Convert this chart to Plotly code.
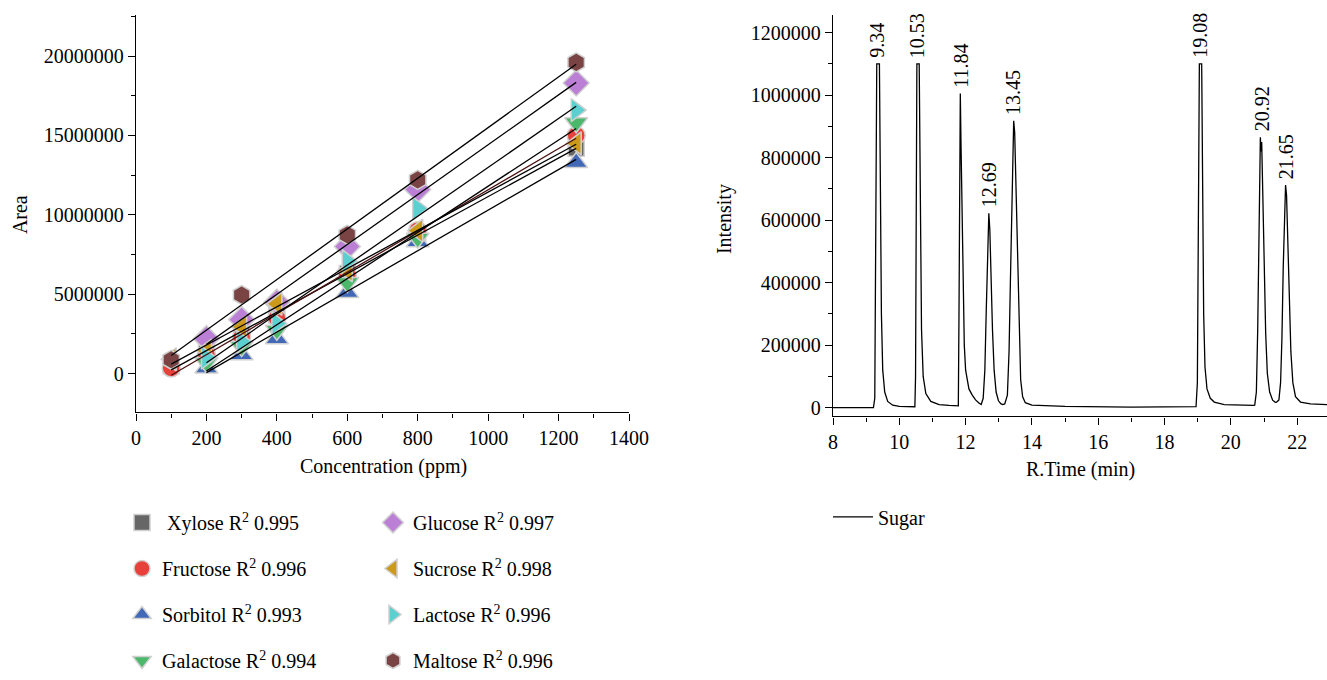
import numpy as np
import plotly.graph_objects as go

# ---------------- Calibration data (left panel) ----------------
sugars = ["Xylose", "Fructose", "Sorbitol", "Galactose",
          "Glucose", "Sucrose", "Lactose", "Maltose"]
r2 = ["0.995", "0.996", "0.993", "0.994", "0.997", "0.998", "0.996", "0.996"]

conc_xylose = [100, 200, 300, 400, 600, 800, 1250]
area_xylose = [500000, 1300000, 2600000, 3700000, 6300000, 8800000, 14200000]
conc_fructose = [100, 200, 300, 400, 600, 800, 1250]
area_fructose = [350000, 1200000, 2300000, 3500000, 6200000, 9000000, 15000000]
conc_sorbitol = [200, 300, 400, 600, 800, 1250]
area_sorbitol = [350000, 1180000, 2200000, 5100000, 8300000, 13300000]
conc_galactose = [200, 300, 400, 600, 800, 1250]
area_galactose = [680000, 1700000, 2730000, 5730000, 8530000, 15800000]
conc_glucose = [200, 300, 400, 600, 800, 1250]
area_glucose = [2200000, 3400000, 4500000, 8000000, 11600000, 18300000]
conc_sucrose = [100, 200, 300, 400, 600, 800, 1250]
area_sucrose = [900000, 1450000, 2940000, 4390000, 6500000, 9000000, 14500000]
conc_lactose = [200, 300, 400, 600, 800, 1250]
area_lactose = [1000000, 2000000, 3150000, 7080000, 10400000, 16600000]
conc_maltose = [100, 300, 600, 800, 1250]
area_maltose = [870000, 4950000, 8740000, 12200000, 19600000]

# ---------------- Chromatogram data (right panel) ----------------
rt_min = [8.0, 9.22, 9.26, 9.28, 9.30, 9.32, 9.40, 9.43, 9.46, 9.50, 9.56, 9.65, 9.80, 10.0, 10.45,
          10.47, 10.49, 10.51, 10.53, 10.60, 10.63, 10.67, 10.72, 10.80, 10.95, 11.2, 11.5, 11.76,
          11.78, 11.80, 11.82, 11.84, 11.86, 11.89, 11.92, 11.96, 12.0, 12.1, 12.2, 12.3, 12.4,
          12.47, 12.53, 12.58, 12.62, 12.66, 12.70, 12.73, 12.77, 12.81, 12.86, 12.92, 12.99, 13.06, 13.12,
          13.18, 13.26, 13.31, 13.35, 13.40, 13.45, 13.48, 13.52, 13.57, 13.61, 13.66, 13.72, 13.8, 14.0,
          15.0, 17.0, 18.9,
          18.95, 18.99, 19.01, 19.03, 19.05, 19.12, 19.15, 19.18, 19.22, 19.28, 19.38, 19.5, 19.8, 20.3, 20.68,
          20.72, 20.77, 20.81, 20.85, 20.89, 20.91, 20.93, 20.97, 21.01, 21.05, 21.10, 21.17, 21.26, 21.34, 21.38,
          21.45, 21.50, 21.54, 21.58, 21.62, 21.65, 21.68, 21.72, 21.76, 21.81, 21.87, 21.95, 22.1, 22.4, 22.9]
intensity = [0, 0, 30000, 300000, 800000, 1100000, 1100000, 700000, 300000, 120000, 50000, 20000, 8000, 4000, 3000,
             3000, 100000, 600000, 1100000, 1100000, 600000, 250000, 100000, 45000, 20000, 10000, 7000, 6000,
             6000, 300000, 700000, 1005000, 850000, 600000, 380000, 200000, 120000, 60000, 40000, 25000, 15000,
             10000, 30000, 120000, 300000, 520000, 622000, 570000, 400000, 250000, 120000, 50000, 22000, 13000, 10000,
             12000, 40000, 180000, 400000, 720000, 918000, 880000, 700000, 420000, 220000, 90000, 35000, 16000, 8000,
             4000, 2000, 2000,
             3000, 80000, 400000, 900000, 1100000, 1100000, 700000, 300000, 130000, 60000, 30000, 18000, 10000, 7000, 7000,
             8000, 50000, 250000, 550000, 865000, 820000, 850000, 650000, 420000, 240000, 110000, 50000, 24000, 17000, 18000,
             25000, 80000, 220000, 450000, 650000, 712000, 680000, 520000, 340000, 180000, 80000, 35000, 18000, 12000, 10000]

peak_rt = [9.34, 10.53, 11.84, 12.69, 13.45, 19.08, 20.92, 21.65]
peak_height = [1100000, 1100000, 1005000, 622000, 918000, 1100000, 865000, 712000]
peak_labels = ["9.34", "10.53", "11.84", "12.69", "13.45", "19.08", "20.92", "21.65"]

FONT = "Liberation Serif"
FS = 20
W, H = 1327, 680

series = {
    "Xylose": (conc_xylose, area_xylose, "square", "#666666", 16),
    "Fructose": (conc_fructose, area_fructose, "circle", "#e8413c", 18),
    "Sorbitol": (conc_sorbitol, area_sorbitol, "triangle-up", "#4169b8", 20),
    "Galactose": (conc_galactose, area_galactose, "triangle-down", "#4cb86b", 20),
    "Glucose": (conc_glucose, area_glucose, "diamond", "#bb7fd6", 20),
    "Sucrose": (conc_sucrose, area_sucrose, "triangle-left", "#cc9a1a", 20),
    "Lactose": (conc_lactose, area_lactose, "triangle-right", "#5ccfd0", 20),
    "Maltose": (conc_maltose, area_maltose, "hexagon", "#7a4444", 19),
}

fig = go.Figure()

for i, name in enumerate(sugars):
    cx, ay, sym, col, sz = series[name]
    label = (" " if name == "Xylose" else "") + f"{name} R<sup>2</sup> {r2[i]}"
    fig.add_trace(go.Scatter(
        x=cx, y=ay, mode="markers",
        name=label,
        marker=dict(symbol=sym, color=col, size=sz,
                    line=dict(color="#d0d0d0", width=1.5)),
        legend="legend" if i < 4 else "legend2",
        legendgroup=name,
        xaxis="x", yaxis="y",
    ))

for name in sugars:
    cx, ay, sym, col, sz = series[name]
    k, b = np.polyfit(cx, ay, 1)
    xs = [min(cx), max(cx)]
    fig.add_trace(go.Scatter(
        x=xs, y=[k * v + b for v in xs], mode="lines",
        line=dict(color="#4a1010" if name == "Fructose" else "black", width=1.3),
        showlegend=False, hoverinfo="skip", xaxis="x", yaxis="y",
    ))

fig.add_trace(go.Scatter(
    x=rt_min, y=intensity, mode="lines", name="Sugar",
    line=dict(color="black", width=1.3),
    xaxis="x2", yaxis="y2", legend="legend3",
))

for t, h, lab in zip(peak_rt, peak_height, peak_labels):
    fig.add_annotation(x=t, y=h, xref="x2", yref="y2", text=lab,
                       textangle=-90, showarrow=False, xanchor="center",
                       yanchor="bottom", yshift=4,
                       font=dict(family=FONT, size=FS, color="black"))

# axis titles placed as text
titles = [("Area", 20, 218, -90), ("Concentration (ppm)", 383, 473, 0),
          ("Intensity", 724, 222, -90), ("R.Time (min)", 1080, 476, 0)]
for txt, px, py, ang in titles:
    fig.add_annotation(x=px / W, y=1 - py / H, xref="paper", yref="paper", text=txt,
                       textangle=ang, showarrow=False, xanchor="center", yanchor="middle",
                       font=dict(family=FONT, size=FS, color="black"))

axis_common = dict(showline=True, linecolor="black", linewidth=1.3,
                   ticks="outside", ticklen=7, tickwidth=1.3, tickcolor="black",
                   showgrid=False, zeroline=False, automargin=False,
                   tickfont=dict(family=FONT, size=FS, color="black"))
minor_common = dict(ticks="outside", ticklen=4, tickwidth=1.2, tickcolor="black", showgrid=False)

legend_common = dict(xanchor="left", yanchor="top", bgcolor="rgba(0,0,0,0)",
                     font=dict(family=FONT, size=FS, color="black"))

fig.update_layout(
    width=W, height=H, autosize=False,
    margin=dict(l=0, r=0, t=0, b=0),
    paper_bgcolor="white", plot_bgcolor="white",
    font=dict(family=FONT, size=FS, color="black"),
    xaxis=dict(domain=[136 / W, 629 / W], range=[0, 1400], dtick=200, tick0=0,
               minor=dict(dtick=100, **minor_common), anchor="y", **axis_common),
    yaxis=dict(domain=[1 - 418 / H, 1 - 15 / H], range=[-2450000, 22600000], dtick=5000000,
               tick0=0, tickformat="d", minor=dict(dtick=2500000, **minor_common), anchor="x",
               **axis_common),
    xaxis2=dict(domain=[833 / W, 1.0], range=[8, 22.9], dtick=2, tick0=8,
                minor=dict(dtick=1, **minor_common), anchor="y2", **axis_common),
    yaxis2=dict(domain=[1 - 422 / H, 1 - 15 / H], range=[-28000, 1257000], dtick=200000,
                tick0=0, tickformat="d", minor=dict(dtick=100000, **minor_common), anchor="x2",
                **axis_common),
    legend=dict(x=122 / W, y=1 - 510 / H, tracegroupgap=17, **legend_common),
    legend2=dict(x=373 / W, y=1 - 510 / H, tracegroupgap=17, **legend_common),
    legend3=dict(x=828 / W, y=1 - 504 / H, itemwidth=40, **legend_common),
)

fig.write_html(
    "out.html",
    config={"responsive": False, "displayModeBar": False},
    post_script="document.body.style.margin='0';document.body.style.padding='0';"
                "document.documentElement.style.overflow='hidden';document.body.style.overflow='hidden';",
)
